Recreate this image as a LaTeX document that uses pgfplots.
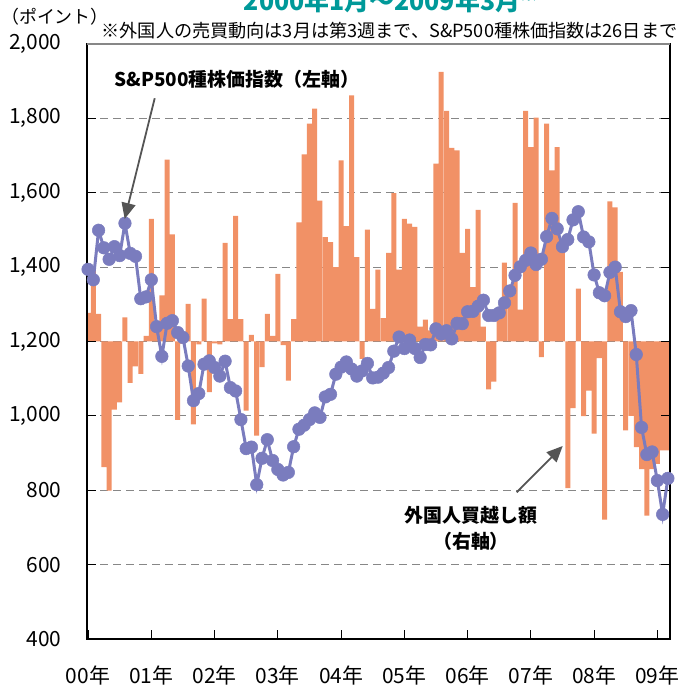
\documentclass[border=0pt]{standalone}
\usepackage{pgfplots}
\pgfplotsset{compat=1.18}
\usepackage{pgfplotstable}
\usepackage{fontspec}
\setmainfont{Noto Sans CJK JP}
\usetikzlibrary{arrows.meta}
\definecolor{barc}{RGB}{241,145,102}
\definecolor{linec}{RGB}{122,124,190}
\definecolor{titlec}{RGB}{0,153,153}
\definecolor{gridc}{RGB}{135,135,135}
\definecolor{arrc}{RGB}{85,85,85}

% foreign net buying (bars), read on the left scale, baseline 1200
\pgfplotstableread{
i v
0 1277
1 1390
2 1274
3 862
4 799
5 1017
6 1036
7 1265
8 1089
9 1133
10 1113
11 1215
12 1530
13 1230
14 1324
15 1689
16 1488
17 989
18 1194
19 1301
20 977
21 1192
22 1315
23 1064
24 1195
25 1192
26 1465
27 1260
28 1538
29 1260
30 1014
31 1218
32 947
33 1131
34 1274
35 1215
36 1382
37 1190
38 1095
39 1260
40 1520
41 1703
42 1786
43 1826
44 1579
45 1481
46 1467
47 1400
48 1687
49 1510
50 1862
51 1427
52 1153
53 1501
54 1288
55 1393
56 1263
57 1438
58 1599
59 1393
60 1530
61 1517
62 1508
63 1240
64 1259
65 1230
66 1678
67 1925
68 1820
69 1721
70 1714
71 1438
72 1503
73 1346
74 1554
75 1240
76 1071
77 1092
78 1270
79 1412
80 1328
81 1573
82 1286
83 1820
84 1723
85 1802
86 1158
87 1786
88 1660
89 1723
90 1470
91 806
92 1021
93 1342
94 999
95 1068
96 952
97 1155
98 721
99 1577
100 1561
101 1387
102 961
103 1000
104 916
105 857
106 732
107 857
108 871
109 907
110 907
}\bardata

% S&P500 monthly
\pgfplotstableread{
i v
0 1394
1 1366
2 1499
3 1452
4 1421
5 1455
6 1431
7 1518
8 1437
9 1429
10 1315
11 1320
12 1366
13 1240
14 1160
15 1249
16 1256
17 1224
18 1211
19 1134
20 1041
21 1060
22 1139
23 1148
24 1130
25 1107
26 1147
27 1076
28 1067
29 990
30 912
31 916
32 815
33 886
34 936
35 880
36 856
37 841
38 848
39 917
40 964
41 975
42 990
43 1008
44 996
45 1051
46 1058
47 1112
48 1131
49 1145
50 1126
51 1107
52 1121
53 1141
54 1102
55 1104
56 1115
57 1130
58 1174
59 1212
60 1181
61 1204
62 1181
63 1157
64 1192
65 1191
66 1234
67 1220
68 1229
69 1207
70 1249
71 1248
72 1280
73 1281
74 1295
75 1311
76 1270
77 1270
78 1277
79 1304
80 1336
81 1378
82 1401
83 1418
84 1438
85 1407
86 1421
87 1482
88 1531
89 1503
90 1455
91 1474
92 1527
93 1549
94 1481
95 1468
96 1379
97 1331
98 1323
99 1386
100 1400
101 1280
102 1267
103 1283
104 1165
105 969
106 896
107 903
108 826
109 735
110 832
}\spdata

\begin{document}
\begin{tikzpicture}[x=1bp,y=1bp]
\path[use as bounding box] (-87,-46) rectangle (593,639);

% bars + grid
\begin{axis}[at={(0,0)}, anchor=south west, scale only axis,
  width=583bp, height=595bp,
  xmin=-0.2, xmax=110.4, ymin=-800, ymax=800,
  axis line style={draw=none},
  xtick=\empty, ytick={-600,-400,...,600}, yticklabels={},
  major tick length=0pt,
  ymajorgrids, grid style={gridc, line width=0.9bp, dash pattern=on 8bp off 5bp},
  ybar, bar width=5.0bp, bar shift=0pt]
\addplot[fill=barc, draw=none] table[x=i, y expr=\thisrow{v}-1200] {\bardata};
\end{axis}

% main axis with S&P500 line
\begin{axis}[at={(0,0)}, anchor=south west, scale only axis,
  width=583bp, height=595bp,
  xmin=-0.2, xmax=110.4, ymin=400, ymax=2000,
  ytick={400,600,...,2000},
  xtick={0,12,...,108},
  xticklabels={00年,01年,02年,03年,04年,05年,06年,07年,08年,09年},
  xtick pos=left, ytick pos=both,
  tick align=inside, major tick length=9bp,
  tick style={black, line width=0.9bp},
  axis line style={black, line width=1.3bp},
  /pgf/number format/assume math mode=true,
  /pgf/number format/1000 sep={,},
  ticklabel style={font=\fontsize{21}{21}\selectfont},
  yticklabel style={xshift=-22bp},
  xticklabel style={yshift=-23bp},
  clip=false]
\addplot[linec, line width=3bp, mark=*, mark size=6.3bp,
  mark options={fill=linec, draw=linec, line width=0.5bp}] table[x=i, y=v] {\spdata};
\draw[gridc, line width=1.3bp] (rel axis cs:0,1) -- (rel axis cs:1,1);
\end{axis}

% texts
\node[anchor=base, text=titlec, font=\fontsize{25}{25}\selectfont\bfseries] at (304,628) {2000年1月～2009年3月\textsuperscript{※}};
\node[anchor=west, inner sep=0pt, font=\fontsize{18}{18}\selectfont] at (-86,622) {（ポイント）};
\node[font=\fontsize{18.2}{18.2}\selectfont] at (302.5,608) {※外国人の売買動向は3月は第3週まで、S\&P500種株価指数は26日まで};
\node[font=\fontsize{19}{19}\selectfont\bfseries] at (150,560) {S\&P500種株価指数（左軸）};
\node[font=\fontsize{19}{19}\selectfont\bfseries] at (384,124) {外国人買越し額};
\node[font=\fontsize{19}{19}\selectfont\bfseries] at (384,98) {（右軸）};
\draw[arrc, line width=1.8bp, -{Triangle[length=16bp, width=14bp]}] (67.7,540.7) -- (37.7,420);
\draw[arrc, line width=1.8bp, -{Triangle[length=16bp, width=14bp]}] (429.7,146.7) -- (475.7,193);
\end{tikzpicture}
\end{document}
